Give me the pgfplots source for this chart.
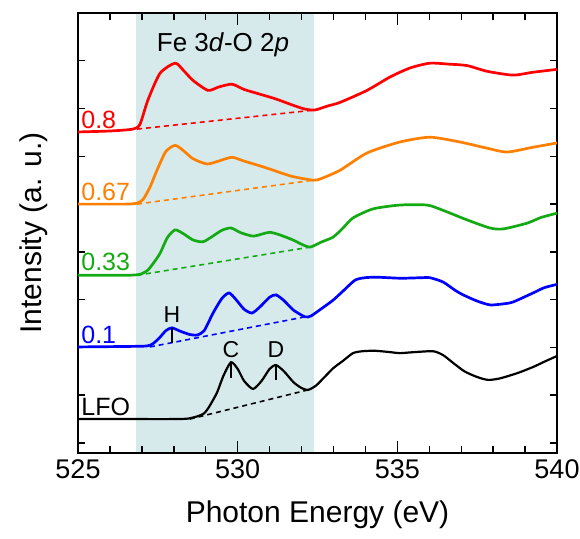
\documentclass[border=0pt]{standalone}
\usepackage{fontspec}
\setmainfont{Liberation Sans}
\usepackage{xcolor}
\definecolor{cred}{RGB}{255,0,0}
\definecolor{corange}{RGB}{255,128,0}
\definecolor{cgreen}{RGB}{20,170,20}
\definecolor{cblue}{RGB}{0,0,255}
\definecolor{band}{RGB}{214,234,236}
\usepackage{pgfplots}
\usetikzlibrary{calc}
\pgfplotsset{compat=1.18}

\begin{document}
\begin{tikzpicture}
\begin{axis}[
  scale only axis, width=479pt, height=440pt,
  xmin=525, xmax=540, ymin=-0.21, ymax=9.0,
  set layers,
  axis line style={line width=1.5pt},
  major tick style={draw=black, line width=1.3pt},
  minor tick style={draw=black, line width=1.3pt},
  tick align=inside,
  major tick length=12pt, minor tick length=7pt,
  xtick={525,530,535,540},
  minor xtick={526,527,528,529,531,532,533,534,536,537,538,539},
  ytick=\empty,
  minor ytick={0,1,2,3,4,5,6,7,8,9},
  x tick label style={font=\fontsize{27}{30}\selectfont, yshift=-3pt},
  xticklabels={525,530,535,540},
  xlabel={Photon Energy (eV)},
  ylabel={Intensity (a. u.)},
  xlabel style={font=\fontsize{30}{34}\selectfont, at={(axis description cs:0.5,-0.157)}, anchor=base},
  ylabel style={font=\fontsize{30}{34}\selectfont, at={(axis description cs:-0.077,0.5)}, anchor=base},
]
% Fe 3d-O 2p band
\begin{pgfonlayer}{axis background}
\fill[band] (axis cs:526.82,-0.21) rectangle (axis cs:532.39,9.0);
\end{pgfonlayer}

% tick marks on the frame
\pgfplotsinvokeforeach{526,527,528,529,531,532,533,534,536,537,538,539}{
  \draw[black, line width=1.4pt] (axis cs:#1,-0.21) -- (axis cs:#1,-0.06);
  \draw[black, line width=1.4pt] (axis cs:#1,9.0) -- (axis cs:#1,8.85);
}
\pgfplotsinvokeforeach{530,535}{
  \draw[black, line width=1.4pt] (axis cs:#1,-0.21) -- (axis cs:#1,0.04);
  \draw[black, line width=1.4pt] (axis cs:#1,9.0) -- (axis cs:#1,8.75);
}
\pgfplotsinvokeforeach{0,1,2,3,4,5,6,7,8}{
  \draw[black, line width=1.4pt] (axis cs:525,#1) -- (axis cs:525.22,#1);
  \draw[black, line width=1.4pt] (axis cs:540,#1) -- (axis cs:539.78,#1);
}

% LFO
\addplot[black, line width=2.2pt, smooth, tension=0.4] coordinates {
  (525.00,0.50) (526.5,0.50) (528.0,0.50) (528.44,0.51) (528.75,0.56)
  (528.95,0.62) (529.1,0.75) (529.35,1.05) (529.55,1.40) (529.79,1.69)
  (530.0,1.55) (530.2,1.30) (530.48,1.13) (530.75,1.30) (531.0,1.55)
  (531.2,1.63) (531.45,1.50) (531.75,1.27) (532.0,1.15) (532.2,1.11)
  (532.45,1.20) (532.75,1.40) (533.0,1.57) (533.3,1.72) (533.61,1.88)
  (533.9,1.92) (534.3,1.93) (534.8,1.90) (535.08,1.88) (535.5,1.90)
  (536.12,1.92) (536.43,1.84) (536.74,1.68) (537.1,1.50) (537.5,1.38)
  (537.84,1.32) (538.2,1.35) (538.75,1.46) (539.25,1.59) (539.6,1.70)
  (540.0,1.82)
};
\addplot[black, line width=1.6pt, dash pattern=on 5pt off 4pt] coordinates {(528.5,0.50) (532.2,1.11)};

% x = 0.1
\addplot[cblue, line width=2.7pt, smooth, tension=0.4] coordinates {
  (525,2.01) (526.5,2.02) (527.16,2.03) (527.35,2.08) (527.55,2.20)
  (527.75,2.35) (527.94,2.41) (528.2,2.34) (528.5,2.27) (528.73,2.26)
  (528.95,2.35) (529.23,2.72) (529.5,3.02) (529.73,3.14) (529.95,3.00)
  (530.2,2.80) (530.45,2.72) (530.7,2.85) (531.0,3.05) (531.2,3.10)
  (531.45,2.98) (531.75,2.78) (532.11,2.64) (532.3,2.66) (532.6,2.80)
  (532.99,2.99) (533.3,3.18) (533.68,3.41) (534.0,3.46) (534.36,3.47)
  (535.0,3.45) (535.30,3.45) (535.8,3.46) (536.02,3.46) (536.43,3.37)
  (536.8,3.20) (537.06,3.10) (537.5,2.97) (537.90,2.89) (538.3,2.91)
  (538.62,2.95) (539.25,3.14) (539.6,3.25) (540,3.32)
};
\addplot[cblue, line width=1.6pt, dash pattern=on 5pt off 4pt] coordinates {(527.25,2.01) (532.11,2.64)};

% x = 0.33
\addplot[cgreen, line width=2.7pt, smooth, tension=0.4] coordinates {
  (525,3.51) (526.5,3.51) (526.94,3.53) (527.19,3.62) (527.4,3.80)
  (527.57,3.97) (527.8,4.30) (528.04,4.46) (528.3,4.38) (528.6,4.25)
  (528.91,4.21) (529.2,4.32) (529.5,4.45) (529.79,4.50) (530.1,4.40)
  (530.48,4.33) (530.8,4.38) (531.01,4.41) (531.3,4.36) (531.73,4.25)
  (532.0,4.16) (532.27,4.10) (532.6,4.20) (532.99,4.31) (533.3,4.50)
  (533.61,4.71) (534.24,4.90) (535.08,4.98) (535.93,4.98) (536.43,4.87)
  (537.18,4.67) (537.90,4.50) (538.31,4.48) (539.06,4.60) (539.5,4.72)
  (540,4.81)
};
\addplot[cgreen, line width=1.6pt, dash pattern=on 5pt off 4pt] coordinates {(526.85,3.51) (532.27,4.10)};

% x = 0.67
\addplot[corange, line width=2.7pt, smooth, tension=0.4] coordinates {
  (525,5.00) (526.5,5.00) (526.85,5.02) (527.04,5.10) (527.25,5.35)
  (527.5,5.75) (527.75,6.10) (528.04,6.23) (528.3,6.12) (528.6,5.95)
  (529.04,5.84) (529.4,5.90) (529.82,5.98) (530.2,5.90) (530.7,5.80)
  (531.11,5.71) (531.7,5.58) (532.36,5.50) (532.6,5.53) (533.21,5.71)
  (534.05,6.07) (535.08,6.30) (536.02,6.40) (536.96,6.30) (537.81,6.17)
  (538.44,6.09) (539.25,6.19) (540,6.28)
};
\addplot[corange, line width=1.6pt, dash pattern=on 5pt off 4pt] coordinates {(526.85,5.00) (532.36,5.50)};

% x = 0.8
\addplot[cred, line width=2.7pt, smooth, tension=0.4] coordinates {
  (525,6.51) (526.0,6.53) (526.72,6.57) (526.94,6.67) (527.19,7.18)
  (527.57,7.74) (528.04,7.95) (528.3,7.80) (528.60,7.59) (529.07,7.38)
  (529.4,7.45) (529.82,7.51) (530.2,7.40) (530.70,7.30) (531.2,7.20)
  (531.73,7.07) (532.1,6.99) (532.42,6.97) (532.8,7.05) (533.21,7.13)
  (534.05,7.38) (534.77,7.66) (535.40,7.85) (536.02,7.95) (536.6,7.93)
  (537.18,7.90) (537.81,7.78) (538.62,7.70) (539.25,7.76) (540,7.82)
};
\addplot[cred, line width=1.6pt, dash pattern=on 5pt off 4pt] coordinates {(526.85,6.57) (532.42,6.97)};

% peak markers
\draw[black, line width=1.3pt] (axis cs:527.94,2.09) -- (axis cs:527.94,2.41);
\draw[black, line width=1.3pt] (axis cs:529.79,1.36) -- (axis cs:529.79,1.69);
\draw[black, line width=1.3pt] (axis cs:531.20,1.32) -- (axis cs:531.20,1.63);
\node[font=\fontsize{23}{25}\selectfont] at (axis cs:527.94,2.68) {H};
\node[font=\fontsize{23}{25}\selectfont] at (axis cs:529.79,1.95) {C};
\node[font=\fontsize{23}{25}\selectfont] at (axis cs:531.20,1.95) {D};

% labels
\node[font=\fontsize{26}{28}\selectfont] at (axis cs:529.54,8.33) {Fe 3\textit{d}-O 2\textit{p}};
\node[font=\fontsize{25}{28}\selectfont, text=cred, anchor=west, inner sep=0pt] at (axis cs:525.1,6.76) {0.8};
\node[font=\fontsize{25}{28}\selectfont, text=corange, anchor=west, inner sep=0pt] at (axis cs:525.1,5.25) {0.67};
\node[font=\fontsize{25}{28}\selectfont, text=cgreen, anchor=west, inner sep=0pt] at (axis cs:525.1,3.79) {0.33};
\node[font=\fontsize{25}{28}\selectfont, text=cblue, anchor=west, inner sep=0pt] at (axis cs:525.1,2.26) {0.1};
\node[font=\fontsize{25}{28}\selectfont, text=black, anchor=west, inner sep=0pt] at (axis cs:525.1,0.75) {LFO};
\end{axis}
\pgfresetboundingbox
\path[use as bounding box] ($(current axis.south west)+(-78pt,-85pt)$) rectangle ++(580pt,538pt);
\end{tikzpicture}
\end{document}
